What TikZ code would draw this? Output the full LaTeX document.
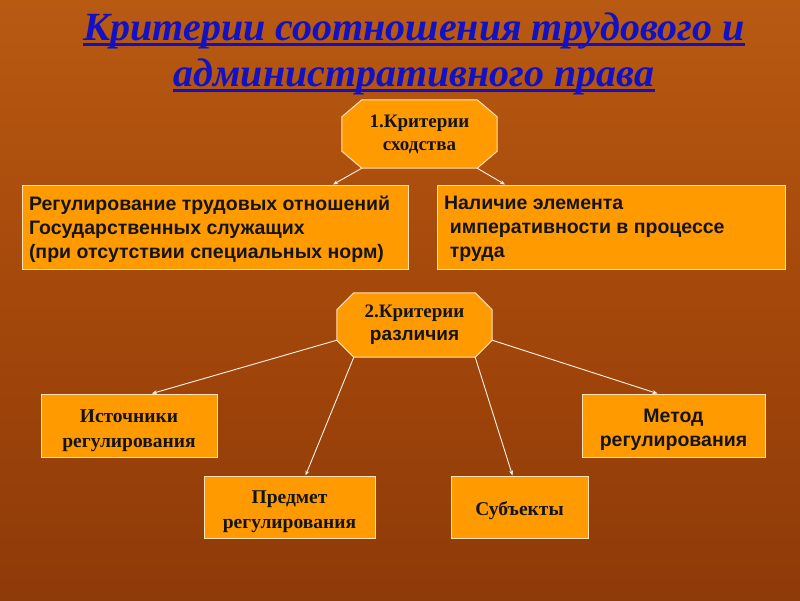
\documentclass[tikz,border=0pt]{standalone}
\usepackage{fontspec}
\setmainfont{Liberation Serif}
\newfontfamily\arialf{Liberation Sans}
\usetikzlibrary{arrows.meta,calc,backgrounds}
\definecolor{boxfill}{HTML}{FF9A00}
\definecolor{boxline}{HTML}{FFE2B5}
\definecolor{titleblue}{HTML}{1212C4}
\definecolor{bgtop}{HTML}{B85A12}
\definecolor{bgmid}{HTML}{A4480B}
\definecolor{bgbot}{HTML}{8E3A09}
\definecolor{connc}{HTML}{FFF2E6}
% shift a centred block down without changing its reported size
\newcommand\lowblock[3]{\raisebox{-#1}[\height][\depth]{\begin{minipage}{#2}#3\end{minipage}}}
\begin{document}
\begin{tikzpicture}[x=1pt,y=-1pt,
  box/.style={draw=boxline, line width=1pt, fill=boxfill, inner sep=0pt, text=black!92},
  sansbox/.style={box, font=\arialf\bfseries\fontsize{19.5}{24}\selectfont},
  serifbox/.style={box, font=\bfseries\fontsize{19.5}{25}\selectfont},
  octtext/.style={inner sep=0pt, text=black!92, align=center},
  octline/.style={draw=boxline, line width=1pt, fill=boxfill},
  titlefont/.style={font=\bfseries\itshape\fontsize{40}{46}\selectfont, text=titleblue, inner sep=0pt},
  uline/.style={draw=titleblue, line width=2.4pt},
  conn/.style={draw=connc, line width=0.9pt, -{Stealth[length=5pt,width=4pt]}}
]
\useasboundingbox (0,0) rectangle (800,600);

% title
\node[titlefont, anchor=base] (t1) at (414,40) {Критерии соотношения трудового и};
\node[titlefont, anchor=base] (t2) at (414,86) {административного права};
\draw[uline] ($(t1.base west)+(0,4.5)$) -- ($(t1.base east)+(0,4.5)$);
\draw[uline] ($(t2.base west)+(0,4.5)$) -- ($(t2.base east)+(0,4.5)$);

% octagon nodes
\node[octtext, minimum width=155pt, minimum height=68pt,
      font=\bfseries\fontsize{19}{23}\selectfont] (o1) at (419.5,134) {1.Критерии\\сходства};
\node[octtext, minimum width=155pt, minimum height=64pt,
      font=\bfseries\fontsize{19}{23}\selectfont] (o2) at (414.5,325)
      {2.Критерии\\{\arialf\bfseries различия}};

% boxes
\node[sansbox, minimum width=386pt, minimum height=84pt] (b1) at (215,227)
  {\lowblock{2pt}{372pt}{\raggedright
   Регулирование трудовых отношений\\
   Государственных служащих\\
   (при отсутствии специальных норм)}};
\node[sansbox, minimum width=348pt, minimum height=84pt] (b2) at (611,227)
  {\lowblock{2pt}{334pt}{\raggedright
   Наличие элемента\\
   \hspace*{0.3em}императивности в процессе\\
   \hspace*{0.3em}труда}};

\node[serifbox, minimum width=176pt, minimum height=63pt] (s1) at (129,425.5)
  {\lowblock{5pt}{170pt}{\centering Источники\\регулирования}};
\node[serifbox, minimum width=171pt, minimum height=62pt] (s2) at (289.5,507)
  {\lowblock{5pt}{165pt}{\centering Предмет\\регулирования}};
\node[serifbox, minimum width=137pt, minimum height=62pt] (s3) at (519.5,507)
  {\lowblock{4pt}{130pt}{\centering Субъекты}};
\node[sansbox, minimum width=183pt, minimum height=63pt] (s4) at (673.5,425.5)
  {\lowblock{4pt}{178pt}{\centering Метод\\регулирования}};

% background and octagons
\begin{scope}[on background layer]
  \shade[top color=bgtop, bottom color=bgbot, middle color=bgmid] (0,0) rectangle (800,600);
  \path[octline] ($(o1.north west)+(20,0)$) -- ($(o1.north east)+(-20,0)$)
     -- ($(o1.north east)+(0,17)$) -- ($(o1.south east)+(0,-17)$)
     -- ($(o1.south east)+(-20,0)$) -- ($(o1.south west)+(20,0)$)
     -- ($(o1.south west)+(0,-17)$) -- ($(o1.north west)+(0,17)$) -- cycle;
  \path[octline] ($(o2.north west)+(17,0)$) -- ($(o2.north east)+(-17,0)$)
     -- ($(o2.north east)+(0,17)$) -- ($(o2.south east)+(0,-17)$)
     -- ($(o2.south east)+(-17,0)$) -- ($(o2.south west)+(17,0)$)
     -- ($(o2.south west)+(0,-17)$) -- ($(o2.north west)+(0,17)$) -- cycle;
\end{scope}

% connectors
\coordinate (o1bl) at ($(o1.south west)+(20,0)$);
\coordinate (o1br) at ($(o1.south east)+(-20,0)$);
\coordinate (o2l)  at ($(o2.south west)+(0,-17)$);
\coordinate (o2r)  at ($(o2.south east)+(0,-17)$);
\coordinate (o2bl) at ($(o2.south west)+(17,0)$);
\coordinate (o2br) at ($(o2.south east)+(-17,0)$);

\draw[conn] (o1bl) -- ($(b1.north)+(118,0)$);
\draw[conn] (o1br) -- ($(b2.north)+(-106,0)$);
\draw[conn] (o2l)  -- ($(s1.north)+(23,0)$);
\draw[conn] (o2bl) -- ($(s2.north)+(16,0)$);
\draw[conn] (o2br) -- ($(s3.north)+(-7,0)$);
\draw[conn] (o2r)  -- ($(s4.north)+(-16,0)$);
\end{tikzpicture}
\end{document}
